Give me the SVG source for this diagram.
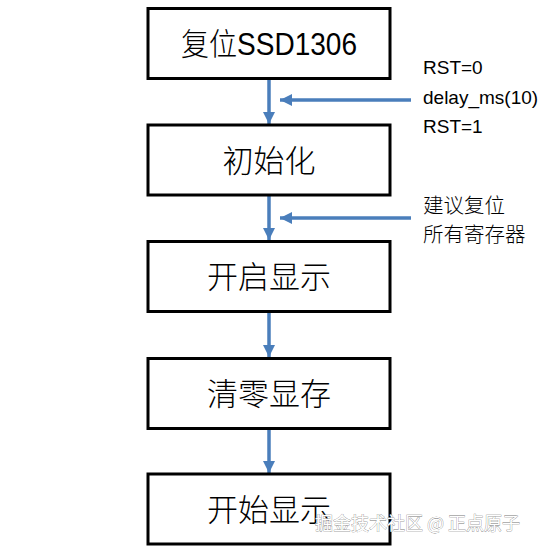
<svg xmlns="http://www.w3.org/2000/svg" width="539" height="550" viewBox="0 0 539 550">
<defs>
<marker id="ah" viewBox="0 0 12 12" refX="12" refY="6" markerWidth="12" markerHeight="12" markerUnits="userSpaceOnUse" orient="auto">
<path d="M0,0 L12,6 L0,12 z" fill="#4a7ebb"/>
</marker>
<style>
.box{fill:#fff;stroke:#000;stroke-width:3}
.lbl{font-family:"Liberation Sans","Noto Sans CJK SC",sans-serif;font-size:31px;font-weight:300;fill:#000;text-anchor:middle}
.side{font-family:"Liberation Sans","Noto Sans CJK SC",sans-serif;font-size:19px;fill:#000}
.cn{font-family:"Noto Sans CJK SC",sans-serif;font-size:20.5px;font-weight:300;fill:#000}
.ln{stroke:#4a7ebb;stroke-width:3.5;fill:none;marker-end:url(#ah)}
.wm{font-family:"Noto Sans CJK SC",sans-serif;font-size:18px;fill:#fff;stroke:#777;stroke-width:0.6;paint-order:stroke}
</style>
</defs>
<rect width="539" height="550" fill="#fff"/>
<g id="connectors">
<line class="ln" x1="269" y1="80" x2="269" y2="124"/>
<line class="ln" x1="269" y1="196" x2="269" y2="240"/>
<line class="ln" x1="269" y1="313" x2="269" y2="357"/>
<line class="ln" x1="269" y1="430" x2="269" y2="473"/>
<line class="ln" x1="411" y1="100" x2="280" y2="100"/>
<line class="ln" x1="411" y1="218" x2="280" y2="218"/>
</g>
<g id="n1"><rect class="box" x="148" y="8.5" width="242" height="70"/><text class="lbl" x="269" y="55" textLength="176" lengthAdjust="spacingAndGlyphs">复位<tspan font-weight="400">SSD1306</tspan></text></g>
<g id="n2"><rect class="box" x="148" y="125" width="242" height="70"/><text class="lbl" x="269" y="172">初始化</text></g>
<g id="n3"><rect class="box" x="148" y="241.5" width="242" height="70"/><text class="lbl" x="269" y="288">开启显示</text></g>
<g id="n4"><rect class="box" x="148" y="358.5" width="242" height="70"/><text class="lbl" x="269" y="405">清零显存</text></g>
<g id="n5"><rect class="box" x="148" y="474" width="242" height="70"/><text class="lbl" x="269" y="521">开始显示</text></g>
<g id="notes">
<text class="side" x="423" y="74">RST=0</text>
<text class="side" x="423" y="104">delay_ms(10)</text>
<text class="side" x="423" y="133">RST=1</text>
<text class="cn" x="423" y="213">建议复位</text>
<text class="cn" x="423" y="242">所有寄存器</text>
</g>
<text class="wm" x="315" y="530">掘金技术社区 @ 正点原子</text>
</svg>
